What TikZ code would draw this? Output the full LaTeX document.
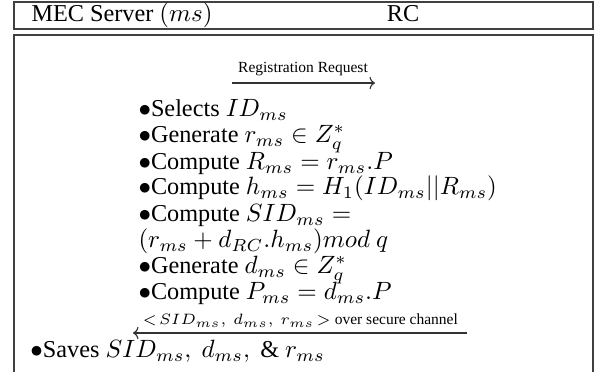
\documentclass[tikz,border=0pt]{standalone}
\usepackage{fontspec}
\setmainfont{Liberation Serif}
\usetikzlibrary{arrows.meta}
\begin{document}
\begin{tikzpicture}[x=0.4pt,y=-0.4pt,
  frame/.style={draw=black!75,line width=0.6pt},
  txt/.style={anchor=base west,inner sep=0pt,font=\fontsize{9.7}{11.6}\selectfont},
  lbl/.style={anchor=base west,inner sep=0pt,font=\fontsize{6.2}{7.5}\selectfont},
  msg/.style={draw=black!80,line width=0.45pt,-{To[length=2.2pt,width=5pt]}}]
\useasboundingbox (0,0) rectangle (600,372);
% header box
\draw[frame] (14,2) rectangle (593,29);
\node[txt] (hms) at (31,22) {MEC Server $(ms)$};
\node[txt,anchor=base] (hrc) at (403,22) {RC};
% body box
\draw[frame] (14,380) -- (14,35) -- (593,35) -- (593,380);
% registration request
\coordinate (r1) at (232,83);
\coordinate (r2) at (375,83);
\draw[msg] (r1) -- (r2);
\node[lbl,anchor=base] (rl) at (303,73) {Registration Request};
% RC computations
\node[txt] (l1) at (138,117) {$\bullet$Selects $ID_{ms}$};
\node[txt] (l2) at (138,143) {$\bullet$Generate $r_{ms}\in Z_q^*$};
\node[txt] (l3) at (138,170) {$\bullet$Compute $R_{ms}=r_{ms}.P$};
\node[txt] (l4) at (138,195) {$\bullet$Compute $h_{ms}=H_1(ID_{ms}||R_{ms})$};
\node[txt] (l5) at (138,222) {$\bullet$Compute $SID_{ms}=$};
\node[txt] (l6) at (138,248) {$(r_{ms}+d_{RC}.h_{ms})mod\ q$};
\node[txt] (l7) at (138,274) {$\bullet$Generate $d_{ms}\in Z_q^*$};
\node[txt] (l8) at (138,300) {$\bullet$Compute $P_{ms}=d_{ms}.P$};
% reply
\coordinate (s1) at (467,333);
\coordinate (s2) at (133,333);
\draw[msg] (s1) -- (s2);
\node[lbl] (sl) at (142,325) {$<\!SID_{ms},\ d_{ms},\ r_{ms}\!>$ over secure channel};
% MEC server saves
\node[txt] (sv) at (30,358) {$\bullet$Saves $SID_{ms},\ d_{ms},\ \&\ r_{ms}$};
\end{tikzpicture}
\end{document}
